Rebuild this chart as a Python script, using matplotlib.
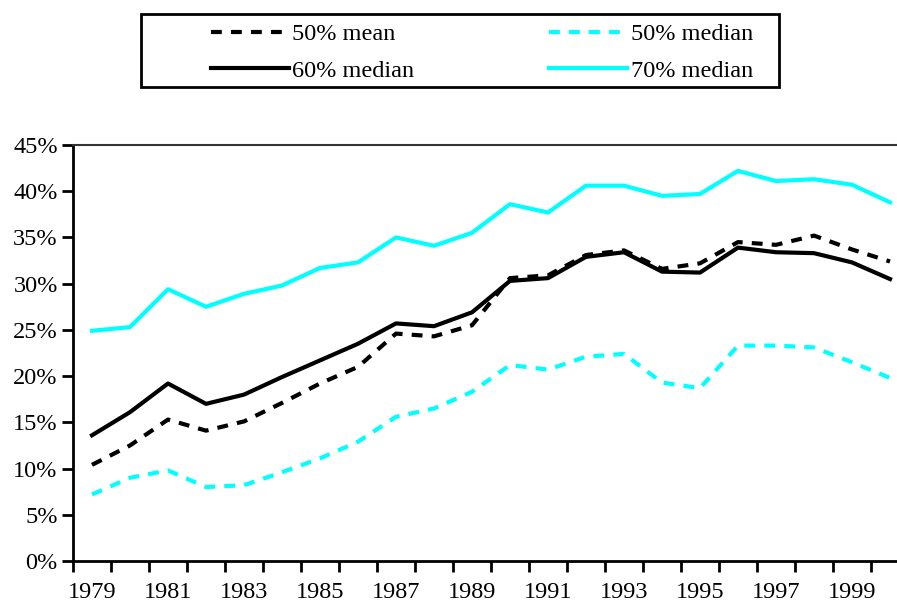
import matplotlib.pyplot as plt
from matplotlib.patches import Rectangle
from matplotlib.ticker import FixedLocator, FuncFormatter

plt.rcParams['font.family'] = ['Liberation Serif', 'DejaVu Serif']

# Datos (porcentajes)
years = list(range(1979, 2001))
mean_50 = [10.4, 12.5, 15.3, 14.1, 15.1, 17.1, 19.2, 21.0, 24.6, 24.3, 25.5, 30.6,
           30.9, 33.1, 33.6, 31.6, 32.2, 34.5, 34.2, 35.2, 33.7, 32.4]
median_50 = [7.2, 9.0, 9.8, 8.0, 8.2, 9.6, 11.1, 12.9, 15.6, 16.5, 18.3, 21.2,
             20.7, 22.1, 22.4, 19.3, 18.7, 23.3, 23.3, 23.1, 21.5, 19.8]
median_60 = [13.6, 16.1, 19.2, 17.0, 18.0, 19.9, 21.7, 23.5, 25.7, 25.4, 26.9, 30.3,
             30.6, 32.9, 33.4, 31.3, 31.2, 33.9, 33.4, 33.3, 32.3, 30.5]
median_70 = [24.9, 25.3, 29.4, 27.5, 28.9, 29.8, 31.7, 32.3, 35.0, 34.1, 35.5, 38.6,
             37.7, 40.6, 40.6, 39.5, 39.7, 42.2, 41.1, 41.3, 40.7, 38.8]
labels = ['50% mean', '60% median', '50% median', '70% median']

W, H = 897, 604
FS = 17.5
fig = plt.figure(figsize=(W / 100, H / 100), dpi=100)
# el eje se sale por la derecha como en la imagen recortada
ax = fig.add_axes([73 / W, (H - 561) / H, 836 / W, 416 / H])

x = list(range(len(years)))
cyan = '#00FFFF'
l1, = ax.plot(x, mean_50, color='black', lw=3, dashes=(2.6, 2.2))
l2, = ax.plot(x, median_50, color=cyan, lw=3, dashes=(2.6, 2.2))
l3, = ax.plot(x, median_60, color='black', lw=3)
l4, = ax.plot(x, median_70, color=cyan, lw=3)

ax.set_xlim(-0.5, len(years) - 0.5)
ax.set_ylim(0, 45)
ax.set_yticks(range(0, 46, 5))
ax.yaxis.set_major_formatter(FuncFormatter(lambda v, p: f'{v:.0f}%'))

# marcas en los bordes de categoría, etiquetas en el centro (años impares)
ax.xaxis.set_major_locator(FixedLocator([i - 0.5 for i in range(len(years) + 1)]))
ax.xaxis.set_major_formatter(FuncFormatter(lambda v, p: ''))
ax.set_xticks(x[::2], [str(y) for y in years[::2]], minor=True)
ax.tick_params(axis='x', which='minor', length=0, pad=15, labelsize=FS)
ax.tick_params(axis='x', which='major', length=8, width=2, direction='out')
ax.tick_params(axis='y', length=8, width=2, direction='out', pad=3, labelsize=FS)

ax.spines['right'].set_visible(False)
ax.spines['left'].set_linewidth(2)
ax.spines['bottom'].set_linewidth(2)
ax.spines['top'].set_linewidth(1.5)
ax.spines['top'].set_color('#333333')

# caja de la leyenda
fig.patches.append(Rectangle((141 / W, 1 - 87 / H), (779 - 141) / W, (87 - 14) / H,
                             transform=fig.transFigure, fill=False,
                             edgecolor='black', linewidth=2))
fig.legend([l1, l3, l2, l4], labels, ncol=2, frameon=False,
           loc='upper left', bbox_to_anchor=(211 / W, 1 - 23 / H),
           fontsize=FS, handlelength=3.2, handletextpad=0.15,
           columnspacing=5.55, labelspacing=0.6, borderpad=0, borderaxespad=0)

plt.savefig('out.png', dpi=100)
